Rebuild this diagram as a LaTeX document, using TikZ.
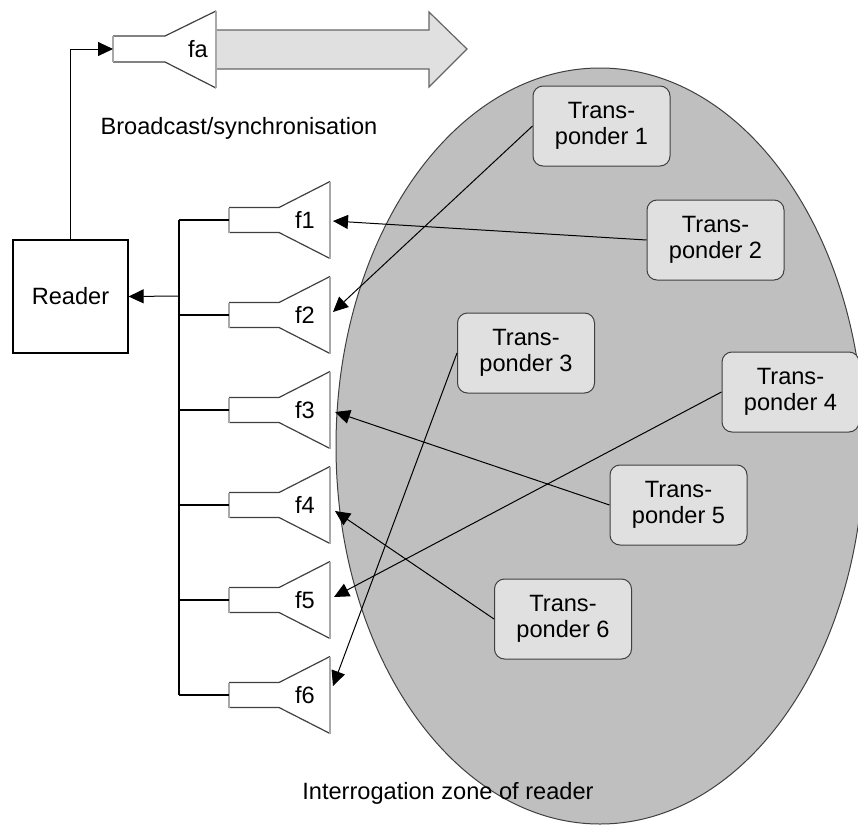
\documentclass[tikz,border=0pt]{standalone}
\usepackage{fontspec}
\setmainfont{Liberation Sans}
\usetikzlibrary{arrows.meta}
\definecolor{zone}{HTML}{BFBFBF}
\definecolor{tpfill}{HTML}{E0E0E0}
\definecolor{edge}{HTML}{404040}
\definecolor{lightedge}{HTML}{A8A8A8}
\begin{document}
\begin{tikzpicture}[x=0.5pt,y=-0.5pt,
  every node/.style={font=\fontsize{11.8}{13}\selectfont, inner sep=0pt},
  tp/.style={draw=edge, fill=tpfill, rounded corners=5pt, minimum width=68.5pt, minimum height=40pt, align=center, line width=0.5pt},
  conn/.style={draw=black, line width=0.5pt, -{Triangle[length=7.5pt,width=7pt]}},
  wire/.style={draw=black, line width=0.6pt},
  hornedge/.style={draw=edge, line width=0.6pt},
  hornlight/.style={draw=lightedge, line width=0.8pt},
  boxstyle/.style={draw=black, line width=0.6pt, minimum width=57.5pt, minimum height=56.5pt},
  zonestyle/.style={fill=zone, draw=edge, line width=0.5pt},
  bigarrow/.style={fill=tpfill, draw=edge!80, line width=0.6pt}
]
\useasboundingbox (0,0) rectangle (858,825);
\fill[white] (0,0) rectangle (858,825);

% interrogation zone
\path[zonestyle] (600,446) ellipse [x radius=264, y radius=378];
\node (zonelabel) at (448,793) {Interrogation zone of reader};

% broadcast antenna fa and big arrow
\fill[tpfill] (216,30) -- (429,30) -- (429,12) -- (467,49) -- (429,87) -- (429,69) -- (216,69) -- cycle;
\draw[edge!80, line width=0.6pt] (216,30) -- (429,30) -- (429,12) -- (467,49) -- (429,87) -- (429,69) -- (216,69);
\fill[white] (113,36) -- (165,36) -- (216,11) -- (216,88) -- (165,62) -- (113,62) -- cycle;
\draw[hornedge] (113,36) -- (165,36) -- (216,11);
\draw[hornedge] (216,88) -- (165,62) -- (113,62);
\draw[hornlight] (113,36) -- (113,62);
\draw[hornlight] (216,11) -- (216,88);
\node (fa) at (198,49) {fa};
\coordinate (fain) at (113,49);
\node (bcast) at (239,128) {Broadcast/synchronisation};

% reader
\node[boxstyle] (reader) at (70.5,296.5) {Reader};
\draw[conn] (reader.north) |- (fain);

% receiving antennas f1..f6
\foreach \i/\c in {1/220,2/315,3/410,4/505,5/600,6/695}{
  \fill[white] (229,\c-12.5) -- (279,\c-12.5) -- (330,\c-38.5) -- (330,\c+38.5) -- (279,\c+12.5) -- (229,\c+12.5) -- cycle;
  \draw[hornedge] (229,\c-12.5) -- (279,\c-12.5) -- (330,\c-38.5);
  \draw[hornedge] (330,\c+38.5) -- (279,\c+12.5) -- (229,\c+12.5);
  \draw[hornlight] (229,\c-12.5) -- (229,\c+12.5);
  \draw[hornlight] (330,\c-38.5) -- (330,\c+38.5);
  \node (f\i) at (305,\c) {f\i};
  \coordinate (f\i in) at (229,\c);
  \coordinate (bus\i) at (179,\c);
  \draw[wire] (bus\i) -- (f\i in);
}
\draw[wire] (bus1) -- (bus6);
\coordinate (busr) at (179,296);
\draw[conn] (busr) -- (reader.east);

% arrow targets at antennas
\coordinate (f1tip) at (333,221);
\coordinate (f2tip) at (333,312);
\coordinate (f3tip) at (335,412);
\coordinate (f4tip) at (335,511);
\coordinate (f5tip) at (334,597);
\coordinate (f6tip) at (333,686);

% transponders
\node[tp] (t1) at (601.5,126) {Trans-\\ponder 1};
\node[tp] (t2) at (715.5,240) {Trans-\\ponder 2};
\node[tp] (t3) at (526,353) {Trans-\\ponder 3};
\node[tp] (t4) at (790.5,392) {Trans-\\ponder 4};
\node[tp] (t5) at (678.5,505) {Trans-\\ponder 5};
\node[tp] (t6) at (563,619) {Trans-\\ponder 6};

% connectors
\draw[conn] (t1.west) -- (f2tip);
\draw[conn] (t2.west) -- (f1tip);
\draw[conn] (t3.west) -- (f6tip);
\draw[conn] (t4.west) -- (f5tip);
\draw[conn] (t5.west) -- (f3tip);
\draw[conn] (t6.west) -- (f4tip);
\end{tikzpicture}
\end{document}
